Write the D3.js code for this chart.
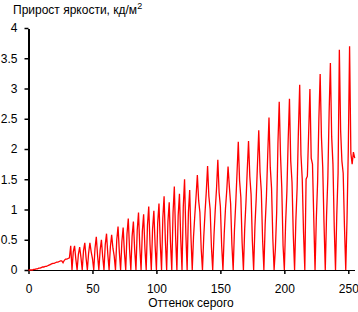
<!DOCTYPE html>
<html>
<head>
<meta charset="utf-8">
<script src="https://cdn.jsdelivr.net/npm/d3@7"></script>
<style>
  body { margin: 0; background: #fff; }
  text { font-family: "Liberation Sans", Arial, sans-serif; font-size: 12px; fill: #000; }
</style>
</head>
<body>
<svg id="chart" width="358" height="312"></svg>
<script>
// brightness increment per grey level 0..255
const increments = [
  0, 0, 0, 0, 0.01, 0.01, 0.02, 0.02, 0.03, 0.03,
  0.04, 0.05, 0.05, 0.06, 0.06, 0.07, 0.08, 0.09, 0.10, 0.11,
  0.11, 0.12, 0.13, 0.13, 0.14, 0.15, 0.15, 0.12, 0.16, 0.18,
  0.18, 0.19, 0.20, 0.40, 0, 0.30, 0.40, 0.18, 0, 0.26,
  0.38, 0.21, 0, 0.32, 0.45, 0.20, 0, 0.28, 0.45, 0.30,
  0.19, 0, 0.36, 0.55, 0.24, 0, 0.33, 0.50, 0.22, 0,
  0.42, 0.60, 0.26, 0, 0.38, 0.58, 0.36, 0.23, 0, 0.50,
  0.72, 0.30, 0, 0.47, 0.70, 0.28, 0, 0.60, 0.85, 0.34,
  0, 0.56, 0.80, 0.33, 0, 0.66, 0.95, 0.38, 0, 0.64,
  0.92, 0.36, 0, 0.74, 1.05, 0.42, 0, 0.68, 0.98, 0.40,
  0, 0.78, 1.10, 0.44, 0, 0.86, 1.22, 0.48, 0, 0.80,
  1.12, 0.45, 0, 0.95, 1.38, 0.55, 0, 0.90, 1.26, 0.52,
  0, 1.05, 1.50, 0.60, 0, 0.95, 1.32, 0.55, 0, 0.55,
  0.90, 1.22, 1.57, 1.15, 0.95, 0.35, 0, 0.55, 0.95, 1.30,
  1.72, 1.22, 1.00, 0.38, 0, 0.58, 1.00, 1.35, 1.82, 1.28,
  1.05, 0.40, 0, 0.60, 1.02, 1.32, 1.71, 1.38, 1.10, 0.42,
  0, 0.66, 1.10, 1.60, 2.12, 1.48, 1.20, 0.45, 0, 0.68,
  1.12, 1.65, 2.13, 1.55, 1.25, 0.48, 0, 0.72, 1.18, 1.75,
  2.31, 1.62, 1.30, 0.50, 0, 0.75, 1.22, 1.90, 2.52, 1.70,
  1.35, 0.52, 0, 0.35, 0.95, 2.10, 2.78, 1.90, 1.35, 0.40,
  0, 0.78, 1.30, 2.15, 2.83, 1.80, 1.45, 0.58, 0, 0.82,
  1.36, 2.30, 3.06, 1.90, 1.50, 0.62, 0, 1.50, 1.55, 2.26,
  2.99, 1.85, 1.75, 0.86, 0, 0.85, 1.45, 2.50, 3.24, 2.20,
  1.70, 0.78, 0, 0.90, 1.52, 2.60, 3.42, 2.20, 1.75, 0.72,
  0, 0.92, 1.60, 3.64, 2.30, 1.80, 1.60, 0.72, 0, 0.85,
  2.00, 3.70, 1.93, 1.75, 1.95, 1.85
];
const xTicks = [0, 50, 100, 150, 200, 250];
const yTicks = [0, 0.5, 1, 1.5, 2, 2.5, 3, 3.5, 4];

const svg = d3.select('#chart');

const x = d3.scaleLinear().domain([0, 255]).range([28.5, 354.7]);
const y = d3.scaleLinear().domain([0, 4]).range([270, 28]);

svg.append('g')
    .attr('transform', 'translate(0,270)')
    .call(d3.axisBottom(x).tickValues(xTicks).tickFormat(d => d).tickSize(4).tickSizeOuter(0).tickPadding(10))
    .call(g => g.selectAll('path, line').attr('stroke', '#000').attr('stroke-width', 1.5))
    .call(g => g.selectAll('text').attr('font-size', null));

svg.append('g')
    .attr('transform', 'translate(28.5,0)')
    .call(d3.axisLeft(y).tickValues(yTicks).tickFormat(d => d).tickSize(4).tickSizeOuter(0).tickPadding(7))
    .call(g => g.selectAll('path, line').attr('stroke', '#000').attr('stroke-width', 1.5))
    .call(g => g.selectAll('text').attr('font-size', null));

svg.selectAll('.domain').attr('shape-rendering', 'crispEdges');

const line = d3.line()
    .x((d, i) => x(i))
    .y(d => y(d));

svg.append('path')
    .datum(increments)
    .attr('d', line)
    .attr('fill', 'none')
    .attr('stroke', '#ff0000')
    .attr('stroke-width', 1.3)
    .attr('stroke-linejoin', 'miter');

const title = svg.append('text')
    .attr('x', 13)
    .attr('y', 14);
title.append('tspan').text('Прирост яркости, кд/м');
title.append('tspan').attr('dy', -5).attr('font-size', 9).text('2');

svg.append('text')
    .attr('x', 191)
    .attr('y', 307)
    .attr('text-anchor', 'middle')
    .text('Оттенок серого');
</script>
</body>
</html>
